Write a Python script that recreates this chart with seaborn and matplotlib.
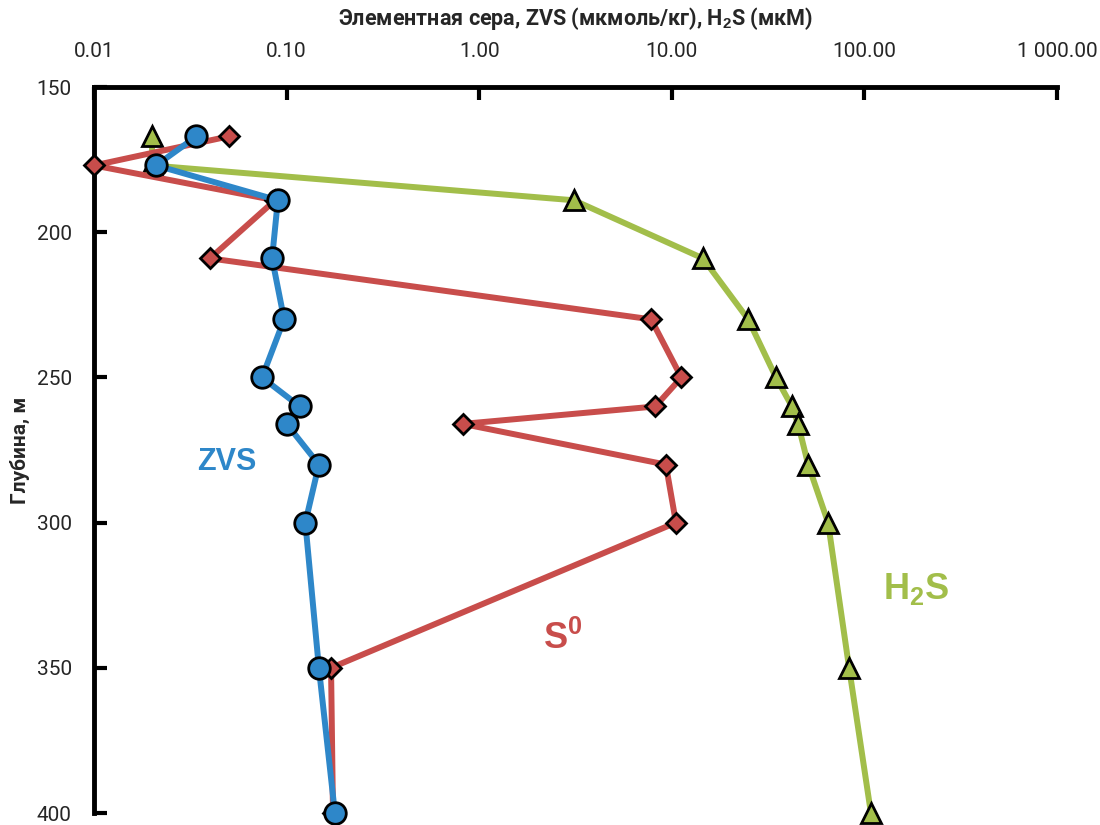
import matplotlib
matplotlib.use("Agg")
import matplotlib.pyplot as plt
from matplotlib.ticker import FixedLocator, FuncFormatter, NullLocator
import seaborn as sns
import pandas as pd

# Depth profile (m) shared by all three series
depth = [167, 177, 189, 209, 230, 250, 260, 266, 280, 300, 350, 400]

# Zero-valent sulfur, µmol/kg
zvs = [0.034, 0.021, 0.090, 0.084, 0.097, 0.0745, 0.117, 0.100, 0.147, 0.125, 0.147, 0.178]
# Elemental sulfur S0, µmol/kg
s0 = [0.050, 0.010, 0.087, 0.040, 7.8, 11.2, 8.2, 0.82, 9.3, 10.5, 0.170, 0.174]
# Hydrogen sulfide, µM
h2s = [0.020, 0.020, 3.1, 14.5, 24.9, 34.7, 42.0, 45.2, 51.0, 64.7, 83.2, 108.0]

x_ticks = [0.01, 0.1, 1, 10, 100, 1000]
y_ticks = [150, 200, 250, 300, 350, 400]

BLUE = "#2E87C9"
RED = "#C84D4B"
GREEN = "#A2BE4A"

sns.set_style("white")

plt.rcParams["font.family"] = ["Roboto", "DejaVu Sans"]
plt.rcParams["mathtext.fontset"] = "custom"
plt.rcParams["mathtext.rm"] = "Liberation Sans:bold"
plt.rcParams["mathtext.bf"] = "Liberation Sans:bold"
plt.rcParams["mathtext.it"] = "Liberation Sans:bold"

df = pd.DataFrame({"depth": depth, "zvs": zvs, "s0": s0, "h2s": h2s})

fig = plt.figure(figsize=(11, 8.25), dpi=100)
ax = fig.add_axes([0.0855, 0.0145, 0.8755, 0.88])

common = dict(sort=False, estimator=None, linewidth=4.3, markeredgecolor="black",
              markeredgewidth=2.0, clip_on=False, ax=ax)

sns.lineplot(data=df, x="h2s", y="depth", color=GREEN, marker="^",
             markersize=14, markerfacecolor=GREEN, zorder=3, **common)
sns.lineplot(data=df, x="s0", y="depth", color=RED, marker="D",
             markersize=10.5, markerfacecolor=RED, zorder=4, **common)
sns.lineplot(data=df, x="zvs", y="depth", color=BLUE, marker="o",
             markersize=15.5, markerfacecolor=BLUE, zorder=5, **common)

ax.set_xscale("log")
ax.set_xlim(0.01, 1000)
ax.set_ylim(400, 150)

ax.xaxis.set_major_locator(FixedLocator(x_ticks))
ax.xaxis.set_minor_locator(NullLocator())
ax.xaxis.set_major_formatter(FuncFormatter(lambda v, _: f"{v:,.2f}".replace(",", " ")))
ax.yaxis.set_major_locator(FixedLocator(y_ticks))

ax.xaxis.tick_top()
ax.xaxis.set_label_position("top")
ax.tick_params(axis="x", which="major", direction="in", length=9, width=3,
               labelsize=15, pad=19, top=True, bottom=False, color="black")
ax.tick_params(axis="y", which="major", direction="in", length=9, width=3,
               labelsize=15, pad=16, left=True, color="black")

for side in ["right", "bottom"]:
    ax.spines[side].set_visible(False)
for side in ["left", "top"]:
    ax.spines[side].set_linewidth(3.5)
    ax.spines[side].set_color("black")

ax.set_xlabel("Элементная сера, ZVS (мкмоль/кг), H$_2$S (мкМ)",
              fontsize=15.5, fontweight="bold", labelpad=12)
ax.set_ylabel("Глубина, м", fontsize=15, fontweight="bold", labelpad=5)

ax.text(0.049, 279, "ZVS", color=BLUE, fontsize=22, fontweight="bold",
        family="Liberation Sans", ha="center", va="center")
ax.text(2.7, 340, r"$\mathbf{S^0}$", color=RED, fontsize=26,
        ha="center", va="center")
ax.text(185, 323, r"$\mathbf{H_2S}$", color=GREEN, fontsize=26,
        ha="center", va="center")

ax.grid(False)
fig.savefig("out.png", dpi=100)
